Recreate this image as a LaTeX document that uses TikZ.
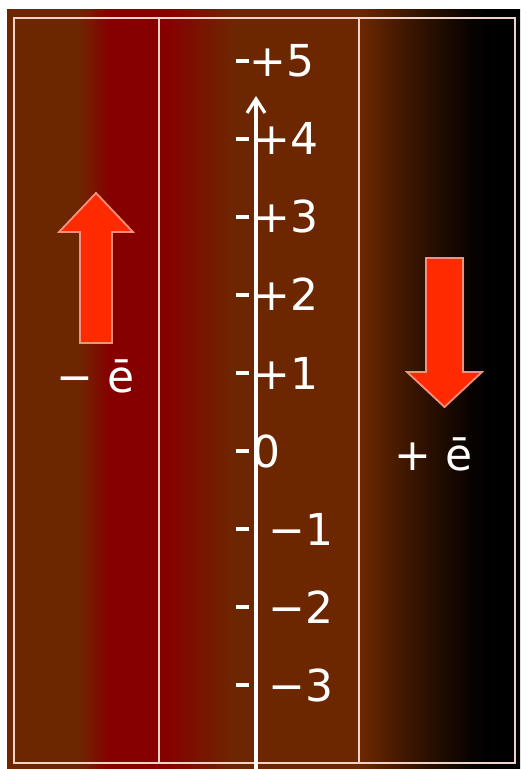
\documentclass[tikz,border=0pt]{standalone}
\usepackage{fontspec}
\setmainfont{DejaVu Sans}
\usetikzlibrary{arrows.meta}

\definecolor{bgbrown}{HTML}{6D2700}
\definecolor{bgred}{HTML}{870000}
\definecolor{framecol}{HTML}{EFD2C8}
\definecolor{arrowred}{HTML}{FF2A00}
\definecolor{arrowrim}{HTML}{F49080}
\pgfdeclarehorizontalshading{bgfade}{100bp}{color(0bp)=(bgbrown);
  color(25bp)=(bgbrown); color(32bp)=(bgbrown); color(35bp)=(bgred);
  color(40.4bp)=(bgred); color(47.2bp)=(bgbrown); color(59.4bp)=(bgbrown);
  color(65.3bp)=(bgbrown!45!black); color(70.1bp)=(bgbrown!8!black);
  color(72bp)=(black); color(100bp)=(black)}

\begin{document}
\begin{tikzpicture}[x=0.5pt,y=-0.5pt,
  frame/.style={draw=framecol,line width=1.4pt},
  lbl/.style={text=white,font=\fontsize{22}{26}\selectfont,inner sep=0pt,anchor=base west},
  tick/.style={white,line width=1.6pt},
  block/.style={fill=arrowred,draw=arrowrim,line width=0.9pt,line join=miter},
  >={Straight Barb[length=7pt,width=9pt]}]
  \useasboundingbox (0,0) rectangle (526,769);
  \fill[white] (0,0) rectangle (526,769);
  \shade[shading=bgfade] (7,10) rectangle (520,769);
  % frame and panel lines
  \draw[frame] (14,18) rectangle (515,763);
  \draw[frame] (159,18) -- (159,763);
  \draw[frame] (359,18) -- (359,763);
  % scale
  \coordinate (axbot) at (256,769);
  \coordinate (axtop) at (256,96);
  \draw[white,line width=1.6pt,->] (axbot) -- (axtop);
  \draw[tick] (236,61) -- (249,61);
  \draw[tick] (236,139) -- (249,139);
  \draw[tick] (236,217) -- (249,217);
  \draw[tick] (236,295) -- (249,295);
  \draw[tick] (236,373) -- (249,373);
  \draw[tick] (236,451) -- (249,451);
  \draw[tick] (236,529) -- (249,529);
  \draw[tick] (236,607) -- (249,607);
  \draw[tick] (236,685) -- (249,685);
  \node[lbl] (p5) at (249,77) {+5};
  \node[lbl] (p4) at (253,155) {+4};
  \node[lbl] (p3) at (253,233) {+3};
  \node[lbl] (p2) at (253,311) {+2};
  \node[lbl] (p1) at (253,389) {+1};
  \node[lbl] (z0) at (252,467) {0};
  \node[lbl] (m1) at (268,545) {−1};
  \node[lbl] (m2) at (268,623) {−2};
  \node[lbl] (m3) at (268,701) {−3};
  % electron arrows
  \draw[block] (80,343) -- (80,232) -- (59,232) -- (96,193) -- (133,232)
    -- (112,232) -- (112,343) -- cycle;
  \node[lbl] (eminus) at (56,392) {− ē};
  \draw[block] (426,258) -- (463,258) -- (463,372) -- (482,372)
    -- (444.5,407) -- (407,372) -- (426,372) -- cycle;
  \node[lbl] (eplus) at (394,470) {+ ē};
\end{tikzpicture}
\end{document}
